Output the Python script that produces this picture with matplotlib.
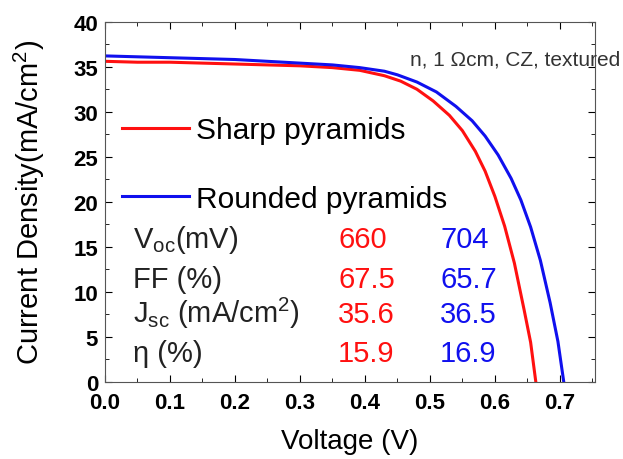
import matplotlib
matplotlib.use('Agg')
import matplotlib.pyplot as plt
from matplotlib.ticker import MultipleLocator

plt.rcParams['font.family'] = ['Liberation Sans', 'DejaVu Sans']
plt.rcParams['mathtext.fontset'] = 'custom'
plt.rcParams['mathtext.rm'] = 'Liberation Sans'
plt.rcParams['mathtext.it'] = 'Liberation Sans:italic'

# J-V curves
v_sharp = [0, 0.05, 0.1, 0.15, 0.2, 0.25, 0.3, 0.35, 0.392, 0.43, 0.455, 0.48,
           0.505, 0.53, 0.55, 0.57, 0.585, 0.6, 0.615, 0.63, 0.645, 0.655, 0.663]
j_sharp = [35.6, 35.5, 35.5, 35.4, 35.3, 35.2, 35.1, 34.9, 34.6, 34.0, 33.4, 32.5,
           31.2, 29.6, 27.9, 25.6, 23.4, 20.6, 17.3, 13.2, 8.0, 4.4, 0]
v_round = [0, 0.05, 0.1, 0.15, 0.2, 0.25, 0.3, 0.35, 0.392, 0.43, 0.45, 0.48,
           0.51, 0.54, 0.565, 0.585, 0.605, 0.625, 0.64, 0.655, 0.67, 0.685, 0.697, 0.706]
j_round = [36.2, 36.1, 36.0, 35.9, 35.8, 35.6, 35.4, 35.2, 34.9, 34.5, 34.1, 33.3,
           32.2, 30.6, 29.0, 27.3, 25.2, 22.6, 20.2, 17.2, 13.5, 8.8, 4.5, 0]

param_labels = [r'V$_{\mathregular{oc}}$(mV)', 'FF (%)',
                r'J$_{\mathregular{sc}}$ (mA/cm$^{\mathregular{2}}$)', r'η (%)']
sharp_vals = ['660', '67.5', '35.6', '15.9']
round_vals = ['704', '65.7', '36.5', '16.9']

red = '#ff1010'
blue = '#1010ee'

fig = plt.figure(figsize=(6.23, 4.60), dpi=100)
ax = fig.add_axes([0.1685, 0.1674, 0.7865, 0.7833])

ax.plot(v_sharp, j_sharp, color=red, lw=2.2, label='Sharp pyramids')
ax.plot(v_round, j_round, color=blue, lw=2.2, label='Rounded pyramids')

ax.set_xlim(0, 0.754)
ax.set_ylim(0, 40)
ax.xaxis.set_major_locator(MultipleLocator(0.1))
ax.xaxis.set_minor_locator(MultipleLocator(0.05))
ax.yaxis.set_major_locator(MultipleLocator(5))
ax.yaxis.set_minor_locator(MultipleLocator(2.5))
ax.tick_params(which='both', direction='in', top=True, right=True, labelsize=16)
ax.tick_params(which='major', length=5)
ax.tick_params(which='minor', length=3)
ax.tick_params(axis='x', pad=7)
ax.tick_params(axis='y', pad=5)
for lab in ax.get_xticklabels() + ax.get_yticklabels():
    lab.set_fontweight('bold')
for s in ax.spines.values():
    s.set_color('#555555')

ax.set_xlabel('Voltage (V)', fontsize=20, labelpad=11)
ax.set_ylabel(r'Current Density(mA/cm$^{\mathregular{2}}$)', fontsize=21, labelpad=19)

leg = ax.legend(loc='upper left', bbox_to_anchor=(0.01, 0.77), frameon=False,
                fontsize=21.5, handlelength=2.25, handletextpad=0.25, labelspacing=1.35,
                borderaxespad=0)

ax.text(0.622, 0.88, 'n, 1 Ωcm, CZ, textured', transform=ax.transAxes,
        fontsize=15, color='#333333', clip_on=False)

rows_y = [0.374, 0.263, 0.166, 0.058]
for y, lab, a, b in zip(rows_y, param_labels, sharp_vals, round_vals):
    ax.text(0.057, y, lab, transform=ax.transAxes, fontsize=21, color='#222222')
    ax.text(0.476, y, a, transform=ax.transAxes, fontsize=21, color=red)
    ax.text(0.684, y, b, transform=ax.transAxes, fontsize=21, color=blue)

fig.savefig('out.png', dpi=100)
